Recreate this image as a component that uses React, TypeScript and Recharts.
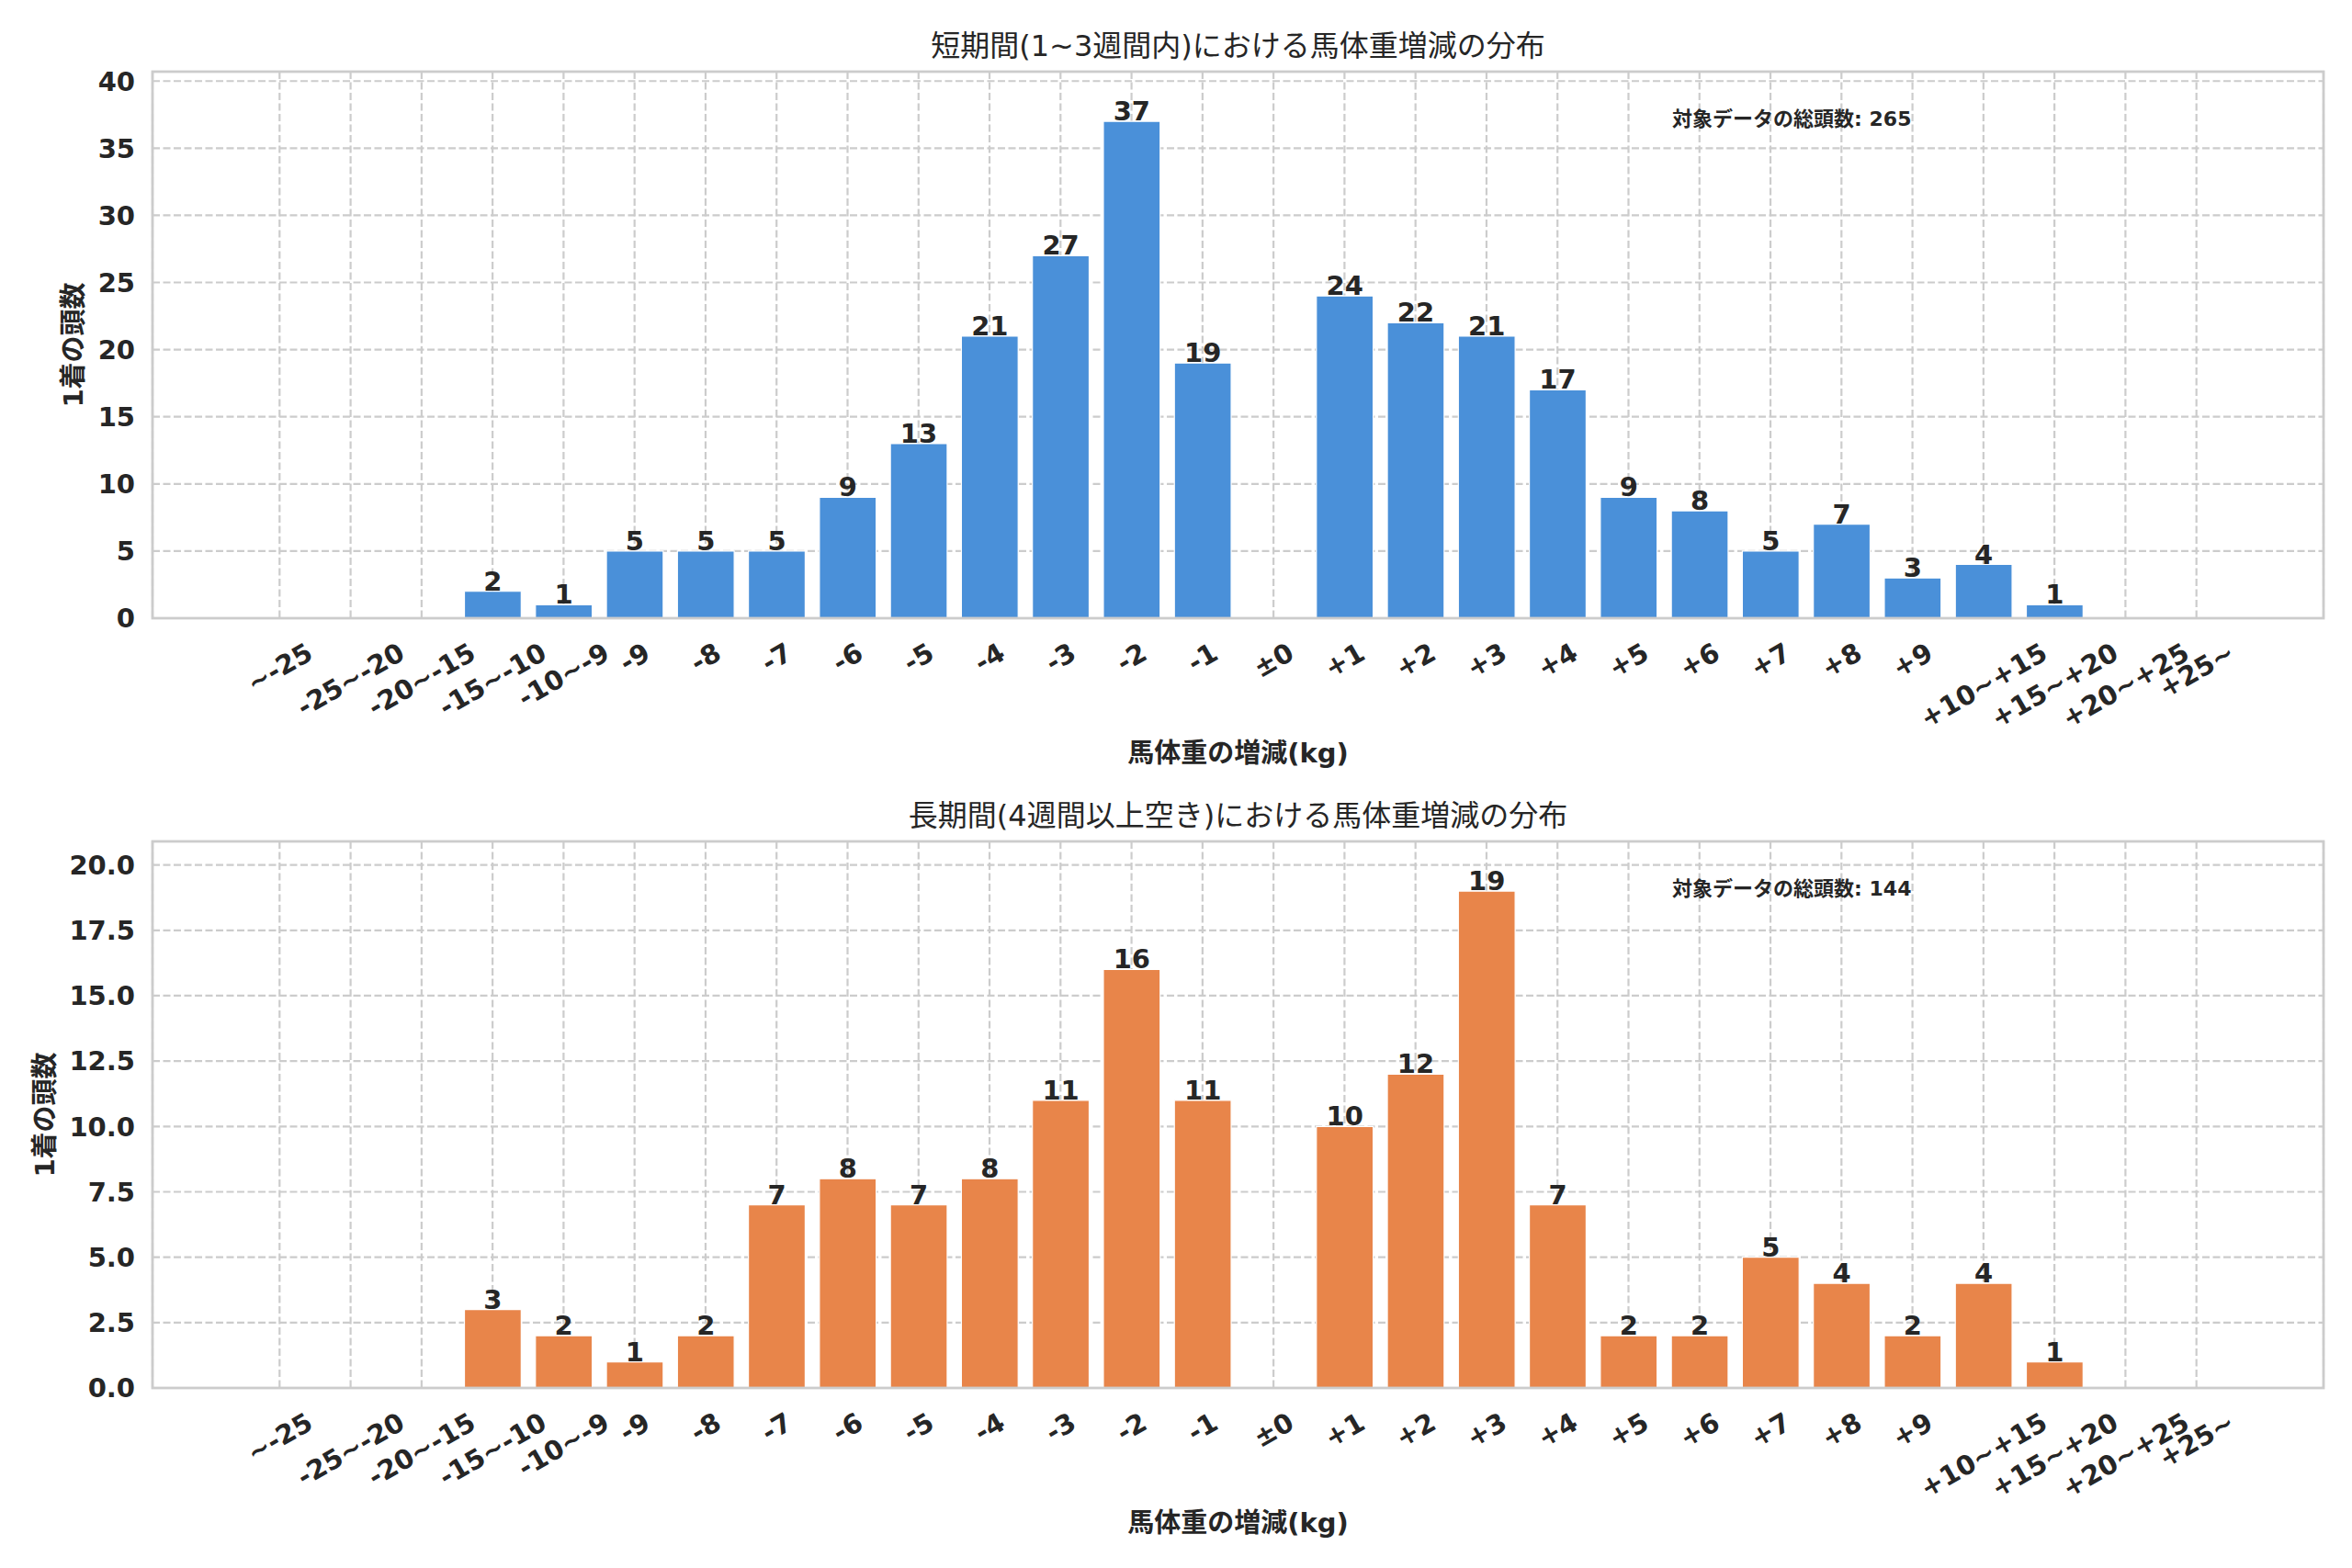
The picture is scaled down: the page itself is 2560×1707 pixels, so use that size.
import React from 'react';
import {
	Bar,
	BarChart,
	CartesianGrid,
	LabelList,
	XAxis,
	YAxis
} from 'recharts';

const categories = [
	'~-25', '-25~-20', '-20~-15', '-15~-10', '-10~-9',
	'-9', '-8', '-7', '-6', '-5', '-4', '-3', '-2', '-1',
	'±0',
	'+1', '+2', '+3', '+4', '+5', '+6', '+7', '+8', '+9',
	'+10~+15', '+15~+20', '+20~+25', '+25~'
];

const shortValues = [0, 0, 0, 2, 1, 5, 5, 5, 9, 13, 21, 27, 37, 19, 0, 24, 22, 21, 17, 9, 8, 5, 7, 3, 4, 1, 0, 0];
const longValues = [0, 0, 0, 3, 2, 1, 2, 7, 8, 7, 8, 11, 16, 11, 0, 10, 12, 19, 7, 2, 2, 5, 4, 2, 4, 1, 0, 0];

const shortTicks = [0, 5, 10, 15, 20, 25, 30, 35, 40];
const longTicks = [0, 2.5, 5, 7.5, 10, 12.5, 15, 17.5, 20];

const shortTitle = '短期間(1~3週間内)における馬体重増減の分布';
const longTitle = '長期間(4週間以上空き)における馬体重増減の分布';
const xLabel = '馬体重の増減(kg)';
const yLabel = '1着の頭数';
const totalLabel = '対象データの総頭数';

const FONT = "'DejaVu Sans', 'Noto Sans CJK JP', sans-serif";
const TEXT = '#262626';
const GRID = '#cccccc';
const FS = 29;

const WIDTH = 2560;
const PLOT_LEFT = 166;
const PLOT_RIGHT = 2529;
const PLOT_W = PLOT_RIGHT - PLOT_LEFT;
const PLOT_H = 595;
const AXIS_H = 100;

// matplotlib-like x limits: bars of width 0.8, 5% margins
const n = categories.length;
const band = PLOT_W / ((n - 0.2) * 1.1);
const sidePad = (0.4 + 0.05 * (n - 0.2) - 0.5) * band;

// rough DejaVu Sans Bold advance widths (em)
const glyphW = (c: string) => {
	if (c >= '0' && c <= '9') return 0.696;
	if (c === '-') return 0.415;
	if (c === '.') return 0.381;
	return 0.838;
};
const textWidth = (s: string) => s.split('').reduce((a, c) => a + glyphW(c), 0) * FS;

const XTick = (props: any) => {
	const { x, y, payload } = props;
	const label = String(payload.value);
	const w = textWidth(label);
	const boxH = w * 0.5 + FS * 1.164 * 0.866;
	const cy = y + 20 + boxH / 2;
	return (
		<g transform={`translate(${x},${cy}) rotate(-30)`}>
			<text
				textAnchor="middle"
				y={FS * 0.346}
				fontSize={FS}
				fontWeight="bold"
				fill={TEXT}
				fontFamily={FONT}
			>
				{label}
			</text>
		</g>
	);
};

const BarValue = (props: any) => {
	const { x, y, width, value } = props;
	if (!Number(value)) return null;
	return (
		<text
			x={Number(x) + Number(width) / 2}
			y={Number(y) - 1}
			textAnchor="middle"
			fontSize={FS}
			fontWeight="bold"
			fill={TEXT}
			fontFamily={FONT}
		>
			{value}
		</text>
	);
};

interface PanelProps {
	title: string;
	values: number[];
	color: string;
	yMax: number;
	ticks: number[];
	fmt: (v: number) => string;
	plotTop: number;
	height: number;
}

const Panel: React.FC<PanelProps> = ({ title, values, color, yMax, ticks, fmt, plotTop, height }) => {
	const data = categories.map((c, i) => ({ cat: c, v: values[i] }));
	const total = values.reduce((a, b) => a + b, 0);
	const plotBottom = plotTop + PLOT_H;
	const tickW = Math.max(...ticks.map((t) => textWidth(fmt(t))));
	const yLabelX = PLOT_LEFT - 19 - tickW - 16.6;
	const midX = PLOT_LEFT + PLOT_W / 2;

	return (
		<div style={{ position: 'relative', width: WIDTH, height }}>
			<BarChart
				width={WIDTH}
				height={height}
				data={data}
				margin={{
					top: plotTop,
					right: WIDTH - PLOT_RIGHT,
					left: 0,
					bottom: height - plotBottom - AXIS_H,
				}}
			>
				<CartesianGrid
					stroke={GRID}
					strokeWidth={2.2}
					strokeDasharray="8 3.5"
				/>
				<XAxis
					dataKey="cat"
					interval={0}
					height={AXIS_H}
					padding={{ left: sidePad, right: sidePad }}
					tickLine={false}
					axisLine={false}
					tickSize={0}
					tickMargin={0}
					tick={<XTick />}
				/>
				<YAxis
					type="number"
					domain={[0, yMax]}
					ticks={ticks}
					interval={0}
					width={PLOT_LEFT}
					tickLine={false}
					axisLine={false}
					tickSize={0}
					tickMargin={19}
					tickFormatter={fmt}
					tick={{ fontSize: FS, fontWeight: 'bold', fill: TEXT, fontFamily: FONT }}
				/>
				<Bar
					dataKey="v"
					fill={color}
					stroke="#ffffff"
					strokeWidth={1.2}
					barSize={band * 0.8}
					isAnimationActive={false}
				>
					<LabelList dataKey="v" content={<BarValue />} />
				</Bar>
			</BarChart>
			<svg
				width={WIDTH}
				height={height}
				style={{ position: 'absolute', left: 0, top: 0, pointerEvents: 'none' }}
				fontFamily={FONT}
			>
				<rect
					x={PLOT_LEFT}
					y={plotTop}
					width={PLOT_W}
					height={PLOT_H}
					fill="none"
					stroke={GRID}
					strokeWidth={2.8}
				/>
				<text x={midX} y={plotTop - 17} textAnchor="middle" fontSize={32} fill={TEXT}>
					{title}
				</text>
				<text x={PLOT_LEFT + PLOT_W * 0.7} y={plotTop + 59} fontSize={22} fontWeight="bold" fill={TEXT}>
					{`${totalLabel}: ${total}`}
				</text>
				<text x={midX} y={plotBottom + 157} textAnchor="middle" fontSize={FS} fontWeight="bold" fill={TEXT}>
					{xLabel}
				</text>
				<text
					transform={`translate(${yLabelX},${plotTop + PLOT_H / 2}) rotate(-90)`}
					textAnchor="middle"
					fontSize={FS}
					fontWeight="bold"
					fill={TEXT}
				>
					{yLabel}
				</text>
			</svg>
		</div>
	);
};

const App: React.FC = () => {
	return (
		<>
			<style>{'body { margin: 0; background: #ffffff; }'}</style>
			<section className="WeightCharts" style={{ width: WIDTH }}>
				<Panel
					title={shortTitle}
					values={shortValues}
					color="#4a90d9"
					yMax={40.7}
					ticks={shortTicks}
					fmt={(v) => String(v)}
					plotTop={78}
					height={854}
				/>
				<Panel
					title={longTitle}
					values={longValues}
					color="#e8854a"
					yMax={20.9}
					ticks={longTicks}
					fmt={(v) => v.toFixed(1)}
					plotTop={62}
					height={853}
				/>
			</section>
		</>
	);
};

export default App;
